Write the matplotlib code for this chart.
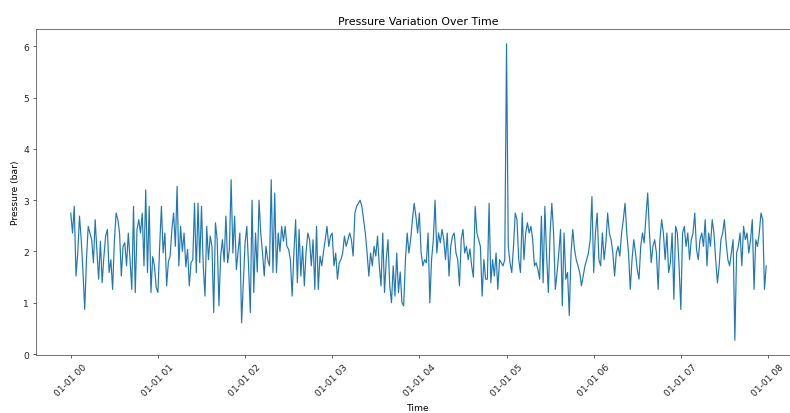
import matplotlib
matplotlib.use('Agg')
import matplotlib.pyplot as plt
import matplotlib.dates as mdates
import pandas as pd

# Pressure readings (bar), 50 readings per hour (every 72 s)
hour_0 = [2.75, 2.36, 2.88, 1.52, 1.97, 2.69, 2.23, 1.6, 0.87, 1.84, 2.49, 2.36, 2.23, 1.78, 2.62, 2.0, 1.46,
          2.2, 1.39, 1.9, 2.3, 2.43, 1.59, 1.84, 1.26, 2.2, 2.75, 2.62, 2.36, 1.52, 2.1, 2.17, 1.72, 2.36, 1.84,
          1.26, 2.88, 1.2, 2.43, 2.62, 2.36, 2.75, 1.72, 3.2, 1.59, 2.88, 1.2, 1.9, 1.72, 1.3]
hour_1 = [1.2, 2.1, 2.88, 1.97, 2.36, 1.33, 1.8, 1.91, 2.43, 2.75, 2.1, 3.27, 1.72, 2.49, 2.0, 2.36, 1.7, 2.04,
          1.33, 1.78, 1.84, 2.94, 1.59, 2.94, 1.78, 2.88, 1.72, 1.13, 2.49, 1.84, 2.3, 2.1, 0.81, 2.56, 2.23,
          0.94, 1.91, 2.23, 1.8, 2.69, 1.78, 2.04, 3.4, 1.97, 2.69, 1.65, 2.0, 2.36, 0.61, 1.39]
hour_2 = [2.17, 2.49, 1.72, 0.81, 3.0, 1.2, 2.36, 1.6, 3.0, 2.36, 1.97, 1.52, 2.1, 1.84, 1.72, 3.4, 1.59, 3.14,
          1.59, 2.36, 2.0, 2.49, 2.2, 2.49, 2.1, 2.04, 1.84, 1.13, 1.97, 2.62, 1.39, 2.43, 1.52, 2.1, 1.33, 2.0,
          2.36, 2.23, 1.72, 2.23, 1.26, 2.49, 1.26, 1.91, 1.72, 2.0, 2.23, 2.49, 2.1, 2.3]
hour_3 = [2.36, 1.72, 1.97, 1.46, 1.78, 1.84, 1.97, 2.3, 2.1, 2.23, 2.36, 2.23, 1.91, 2.75, 2.88, 2.94, 3.0,
          2.88, 2.62, 2.36, 1.97, 1.52, 1.97, 1.72, 2.1, 1.91, 2.3, 1.72, 1.33, 2.36, 1.2, 1.84, 2.23, 1.33, 1.0,
          1.72, 1.13, 1.97, 1.2, 1.6, 1.0, 0.94, 1.84, 2.36, 1.97, 2.23, 2.62, 2.94, 2.69, 2.36]
hour_4 = [2.75, 1.97, 1.72, 1.84, 1.78, 2.36, 1.0, 1.84, 2.23, 3.0, 1.97, 2.36, 2.17, 2.43, 2.23, 1.84, 2.36,
          1.52, 2.1, 2.3, 2.36, 1.97, 1.84, 1.33, 2.23, 2.43, 1.97, 2.1, 1.84, 2.05, 1.72, 1.5, 2.88, 2.36, 2.23,
          2.1, 1.13, 1.84, 1.46, 1.46, 2.94, 1.39, 1.84, 1.52, 1.97, 1.26, 1.84, 1.78, 1.72, 1.84]
hour_5 = [6.05, 2.1, 1.78, 1.59, 2.1, 2.75, 2.62, 1.84, 1.59, 2.75, 1.84, 2.36, 2.56, 2.36, 2.49, 2.23, 1.72,
          1.78, 1.65, 1.46, 2.69, 1.39, 2.88, 1.91, 1.2, 2.36, 2.94, 2.36, 1.26, 1.59, 1.97, 2.43, 0.94, 2.36,
          1.46, 1.59, 0.75, 1.97, 2.43, 2.04, 1.84, 1.72, 1.59, 1.33, 1.52, 1.72, 1.84, 1.97, 2.23, 3.07]
hour_6 = [1.59, 2.36, 2.75, 1.84, 1.72, 2.36, 1.84, 2.17, 2.75, 2.36, 2.23, 1.97, 1.52, 1.97, 2.1, 1.91, 2.36,
          2.62, 2.94, 2.36, 1.97, 1.26, 1.84, 2.23, 1.97, 1.65, 1.46, 2.1, 2.36, 2.17, 2.69, 3.14, 2.36, 1.78,
          2.1, 2.23, 1.97, 1.26, 2.23, 2.62, 2.36, 1.84, 2.36, 1.59, 1.78, 2.36, 1.07, 2.49, 2.36, 1.72]
hour_7 = [0.87, 2.36, 2.49, 2.1, 2.36, 1.84, 2.23, 2.36, 2.75, 2.04, 1.84, 2.23, 2.36, 2.1, 2.62, 1.72, 2.36,
          2.1, 2.62, 2.36, 1.84, 1.39, 1.72, 2.23, 2.36, 2.62, 2.17, 1.84, 1.72, 1.97, 2.23, 0.27, 1.97, 2.1,
          2.36, 1.72, 2.49, 2.23, 2.36, 1.97, 2.23, 2.62, 1.26, 2.23, 2.1, 2.36, 2.75, 2.62, 1.26, 1.72]

pressure = hour_0 + hour_1 + hour_2 + hour_3 + hour_4 + hour_5 + hour_6 + hour_7
start_time = '2024-01-01 00:00'
sample_interval = '72s'
times = pd.date_range(start_time, periods=len(pressure), freq=sample_interval)

S = 0.658
fs = 10 * S
fig = plt.figure(figsize=(7.9, 4.14), dpi=100)
ax = fig.add_axes([36 / 790, 58 / 414, (801 - 36) / 790, (356 - 30) / 414])
ax.plot(times, pressure, color='#1f77b4', linewidth=0.85)

ax.set_title('Pressure Variation Over Time', fontsize=12 * S, pad=6 * S)
ax.set_xlabel('Time', fontsize=fs, labelpad=6 * S)
ax.set_ylabel('Pressure (bar)', fontsize=fs, labelpad=4 * S)
ax.xaxis.set_major_locator(mdates.HourLocator())
ax.xaxis.set_major_formatter(mdates.DateFormatter('%m-%d %H'))
ax.tick_params(labelsize=fs, length=3.5 * S, width=0.8 * S, pad=4 * S, colors='#333333',
               labelcolor='#222222')
plt.setp(ax.get_xticklabels(), rotation=45)
for sp in ax.spines.values():
    sp.set_linewidth(0.8 * S)
    sp.set_color('#444444')

fig.savefig('out.png', dpi=100)
